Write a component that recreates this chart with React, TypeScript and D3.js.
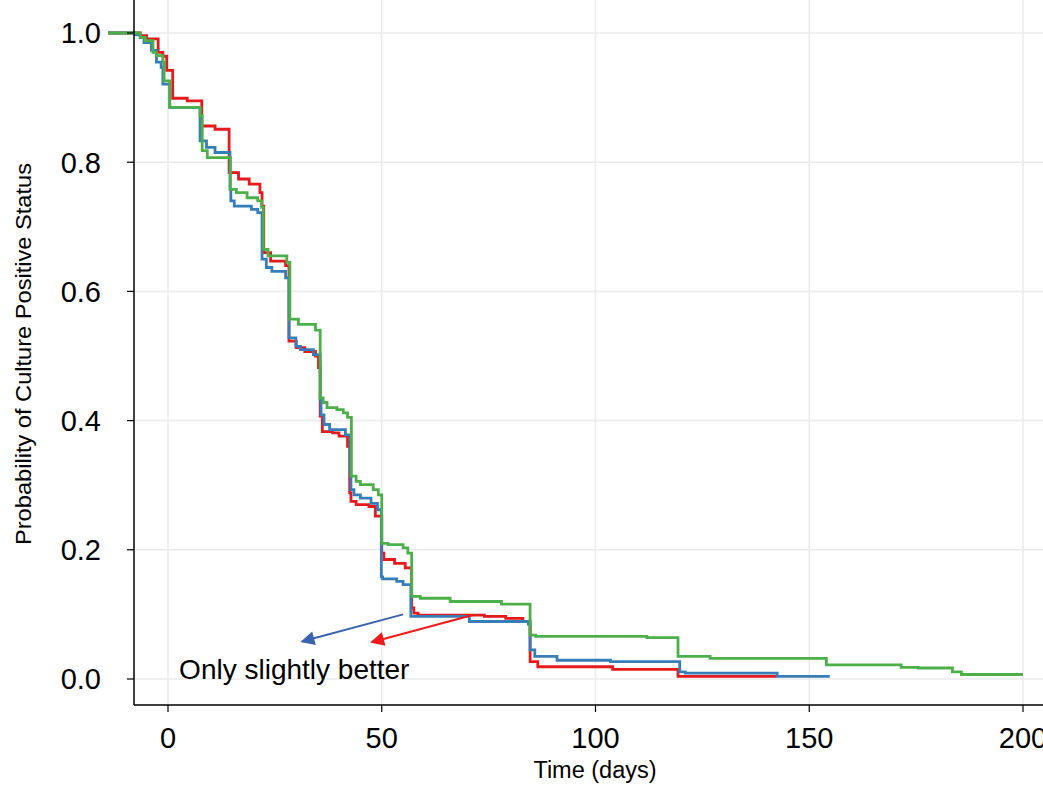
import React from "react";
import * as d3 from "d3";

// ---- data (time in days, survival probability) ----
const redCurve: [number, number][] = [
  [-14, 1.0], [-6.5, 0.996], [-5.0, 0.991], [-2.3, 0.97], [-1.2, 0.964], [-0.3, 0.942],
  [1.1, 0.899], [4.5, 0.895], [7.9, 0.856], [11, 0.851], [14.3, 0.784], [16.5, 0.774],
  [19.0, 0.766], [21.5, 0.753], [22.0, 0.732], [22.4, 0.66], [24.0, 0.647], [27.5, 0.64],
  [28.3, 0.523], [30.0, 0.513], [32.0, 0.507], [34.5, 0.5], [35.2, 0.482], [35.6, 0.407],
  [36.1, 0.383], [38.5, 0.381], [40.0, 0.376], [42.0, 0.36], [42.5, 0.288], [42.8, 0.275],
  [44.0, 0.27], [47.0, 0.267], [48.5, 0.252], [50.0, 0.195], [50.5, 0.185], [53.0, 0.179],
  [55.5, 0.172], [57.0, 0.11], [57.5, 0.102], [58.5, 0.099], [74.0, 0.097], [79.0, 0.094],
  [83.0, 0.089], [84.7, 0.027], [86.5, 0.019], [104, 0.015], [119.3, 0.004], [142.3, 0.004],
];

const blueCurve: [number, number][] = [
  [-14, 1.0], [-7.7, 0.997], [-6.5, 0.993], [-5.6, 0.985], [-3.9, 0.973], [-2.7, 0.955],
  [-1.6, 0.947], [-1.2, 0.921], [0.4, 0.885], [7.5, 0.833], [9.0, 0.823], [11.0, 0.815],
  [14.5, 0.758], [14.7, 0.74], [15.5, 0.732], [19.5, 0.727], [21.0, 0.722], [22.0, 0.65],
  [23.0, 0.637], [24.3, 0.631], [27.5, 0.621], [28.3, 0.528], [29.9, 0.515], [31, 0.51],
  [34, 0.502], [35.6, 0.432], [35.8, 0.409], [36.5, 0.394], [37.8, 0.386], [41.5, 0.378],
  [42.6, 0.314], [42.8, 0.293], [43.5, 0.285], [45, 0.28], [47.5, 0.272], [49, 0.262],
  [49.9, 0.158], [50.2, 0.155], [53.5, 0.151], [55, 0.146], [56.8, 0.097], [70.5, 0.089],
  [84.3, 0.085], [84.7, 0.045], [85.8, 0.035], [91.0, 0.029], [103.5, 0.027], [119.7, 0.011],
  [121, 0.009], [142.5, 0.004], [154.8, 0.004],
];

const greenCurve: [number, number][] = [
  [-14, 1.0], [-6.5, 0.993], [-5.3, 0.988], [-3.5, 0.97], [-2.7, 0.965], [-1.2, 0.955],
  [-0.9, 0.926], [0.4, 0.885], [7.5, 0.872], [8.0, 0.818], [9.2, 0.807], [14.6, 0.758],
  [16.0, 0.753], [18.5, 0.745], [21.0, 0.74], [21.9, 0.73], [22.3, 0.665], [23.4, 0.655],
  [27.8, 0.645], [28.5, 0.557], [30.5, 0.549], [34.5, 0.54], [35.6, 0.435], [36.3, 0.428],
  [37.2, 0.42], [39.5, 0.417], [41, 0.412], [42, 0.405], [42.9, 0.314], [44, 0.306],
  [45, 0.301], [48, 0.293], [49.2, 0.285], [50, 0.21], [51.5, 0.208], [55, 0.203],
  [56.1, 0.195], [57, 0.128], [59, 0.125], [66, 0.12], [78, 0.116], [84.7, 0.068],
  [86, 0.066], [112, 0.064], [119.3, 0.035], [126.8, 0.032], [154, 0.022], [171.5, 0.018],
  [175.5, 0.017], [183.5, 0.011], [185.6, 0.007], [200, 0.007],
];

const seriesColors = ["#e41a1c", "#377eb8", "#4daf4a"];
const xTicks = [0, 50, 100, 150, 200];
const yTicks = [0, 0.2, 0.4, 0.6, 0.8, 1.0];

// annotation arrows in data coords
const arrows: { from: [number, number]; to: [number, number]; color: string }[] = [
  { from: [55.0, 0.1], to: [31.3, 0.058], color: "#3a62ad" },
  { from: [71.3, 0.099], to: [47.6, 0.057], color: "#f01a1a" },
];
const annotationText = "Only slightly better";
const annotationPos: [number, number] = [2.6, 0.0];

const xTitle = "Time (days)";
const yTitle = "Probability of Culture Positive Status";

export default function App() {
  const W = 1043;
  const H = 788;
  const axisLeft = 134;
  const axisBottom = 705;
  const plotRight = 1060;

  const x = d3.scaleLinear().domain([0, 200]).range([168, 1023]);
  const y = d3.scaleLinear().domain([0, 1]).range([679, 33]);

  const line = d3
    .line<[number, number]>()
    .x((d) => x(d[0]))
    .y((d) => y(d[1]))
    .curve(d3.curveStepAfter);

  const curves = [redCurve, blueCurve, greenCurve];
  const font = "'Liberation Sans', Arial, Helvetica, sans-serif";

  return (
    <svg
      width={W}
      height={H}
      style={{ position: "absolute", left: 0, top: 0, display: "block", background: "#fff" }}
    >
      <defs>
        {arrows.map((a, i) => (
          <marker
            key={i}
            id={`ah${i}`}
            viewBox="0 0 10 10"
            refX="9"
            refY="5"
            markerWidth="8"
            markerHeight="7"
            markerUnits="strokeWidth"
            orient="auto"
          >
            <path d="M0,0 L10,5 L0,10 z" fill={a.color} />
          </marker>
        ))}
      </defs>
      {xTicks.map((t) => (
        <line key={"gx" + t} x1={x(t)} x2={x(t)} y1={0} y2={axisBottom} stroke="#ebebeb" strokeWidth={1.5} />
      ))}
      {yTicks.map((t) => (
        <line key={"gy" + t} x1={axisLeft} x2={plotRight} y1={y(t)} y2={y(t)} stroke="#ebebeb" strokeWidth={1.5} />
      ))}

      {curves.map((c, i) => (
        <path key={i} d={line(c) || ""} fill="none" stroke={seriesColors[i]} strokeWidth={2.8} />
      ))}

      {arrows.map((a, i) => (
        <line
          key={"ar" + i}
          x1={x(a.from[0])}
          y1={y(a.from[1])}
          x2={x(a.to[0])}
          y2={y(a.to[1])}
          stroke={a.color}
          strokeWidth={2}
          markerEnd={`url(#ah${i})`}
        />
      ))}
      <text x={x(annotationPos[0])} y={y(annotationPos[1])} fontFamily={font} fontSize={28} fill="#000">
        {annotationText}
      </text>

      <line x1={axisLeft} x2={axisLeft} y1={0} y2={axisBottom} stroke="#000" strokeWidth={1.5} />
      <line x1={axisLeft} x2={plotRight} y1={axisBottom} y2={axisBottom} stroke="#000" strokeWidth={1.5} />
      {yTicks.map((t) => (
        <g key={"ty" + t}>
          <line x1={axisLeft - 7} x2={axisLeft} y1={y(t)} y2={y(t)} stroke="#000" strokeWidth={1.2} />
          <text x={101} y={y(t)} dy="0.36em" textAnchor="end" fontFamily={font} fontSize={29} fill="#000">
            {t.toFixed(1)}
          </text>
        </g>
      ))}
      {xTicks.map((t) => (
        <g key={"tx" + t}>
          <line x1={x(t)} x2={x(t)} y1={axisBottom} y2={axisBottom + 7} stroke="#000" strokeWidth={1.2} />
          <text x={x(t)} y={748} textAnchor="middle" fontFamily={font} fontSize={29} fill="#000">
            {t}
          </text>
        </g>
      ))}
      <text x={595} y={778} textAnchor="middle" fontFamily={font} fontSize={23.5} fill="#000">
        {xTitle}
      </text>
      <text
        transform={`translate(31,354) rotate(-90)`}
        textAnchor="middle"
        fontFamily={font}
        fontSize={22}
        fill="#000"
        textLength={382}
        lengthAdjust="spacingAndGlyphs"
      >
        {yTitle}
      </text>
    </svg>
  );
}
